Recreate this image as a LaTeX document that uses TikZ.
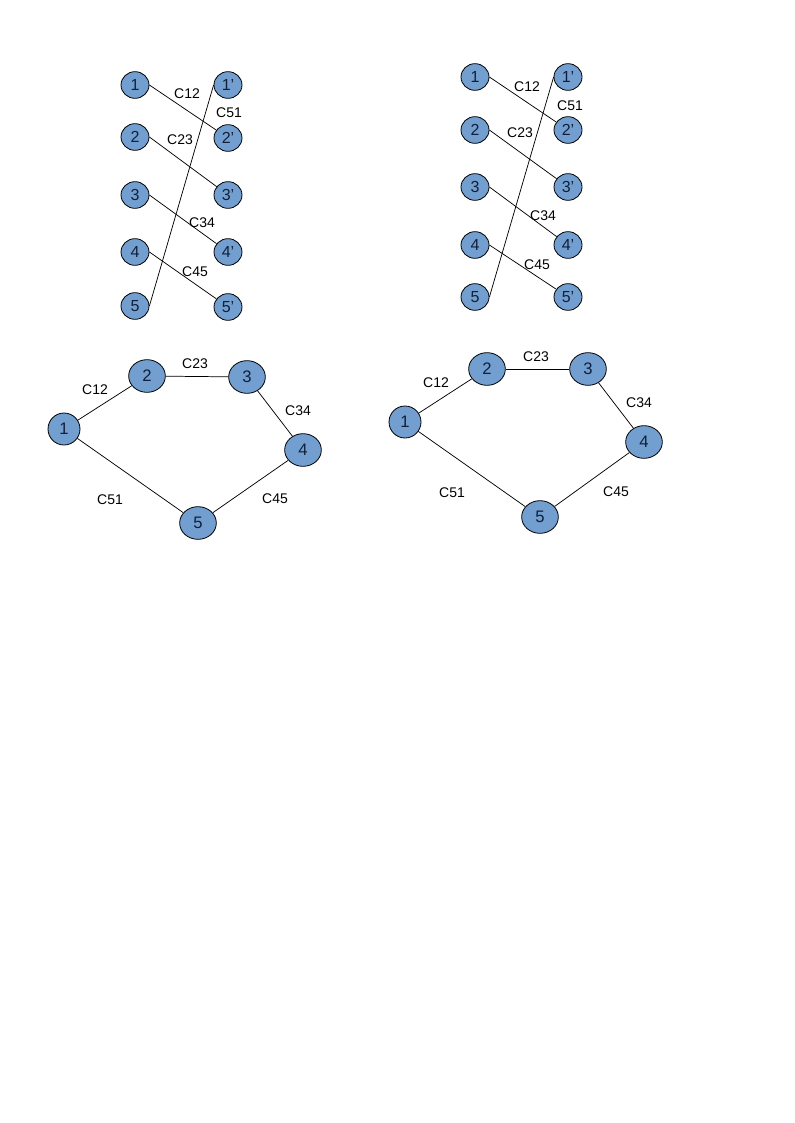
\documentclass[tikz,border=0pt]{standalone}
\usepackage{fontspec}
\setmainfont{Liberation Sans}
\usetikzlibrary{shapes.geometric}
\definecolor{nodefill}{HTML}{729FCF}
\definecolor{nodetext}{HTML}{10203A}
\tikzset{
  small/.style={ellipse,draw=black,line width=0.6pt,fill=nodefill,inner sep=0pt,
    minimum width=21pt,minimum height=20pt,font=\fontsize{12}{13}\selectfont,text=nodetext},
  big/.style={ellipse,draw=black,line width=0.6pt,fill=nodefill,inner sep=0pt,
    minimum width=27.5pt,minimum height=24.5pt,font=\fontsize{12.5}{13}\selectfont,text=nodetext},
  bigc/.style={big,minimum width=24pt,minimum height=24pt},
  lbl/.style={font=\fontsize{10.5}{12}\selectfont,inner sep=0pt},
  edge/.style={draw=black,line width=0.55pt}
}
\begin{document}
\begin{tikzpicture}[x=0.75pt,y=-0.75pt]
\useasboundingbox (0,0) rectangle (794,1123);
% ---------- top left ----------
\begin{scope}
\node[small] (tla1) at (135,85) {1};
\node[small] (tla2) at (135,137) {2};
\node[small] (tla3) at (135,195) {3};
\node[small] (tla4) at (135,252) {4};
\node[small] (tla5) at (135,306) {5};
\node[small] (tlb1) at (228,85) {1'};
\node[small] (tlb2) at (228,138) {2'};
\node[small] (tlb3) at (228,195) {3'};
\node[small] (tlb4) at (228,252) {4'};
\node[small] (tlb5) at (228,307) {5'};
\draw[edge] (tla1.east) -- (tlb2);
\draw[edge] (tla2.east) -- (tlb3);
\draw[edge] (tla3.east) -- (tlb4);
\draw[edge] (tla4.east) -- (tlb5);
\draw[edge] (tla5.east) -- (tlb1.west);
\node[lbl] (tll12) at (187,94) {C12};
\node[lbl] (tll51) at (229,113) {C51};
\node[lbl] (tll23) at (180,140) {C23};
\node[lbl] (tll34) at (202,223) {C34};
\node[lbl] (tll45) at (195,272) {C45};
\end{scope}
% ---------- top right ----------
\begin{scope}
\node[small] (tra1) at (475,77) {1};
\node[small] (tra2) at (475,130) {2};
\node[small] (tra3) at (475,187) {3};
\node[small] (tra4) at (475,245) {4};
\node[small] (tra5) at (475,297) {5};
\node[small] (trb1) at (568,77) {1'};
\node[small] (trb2) at (568,130) {2'};
\node[small] (trb3) at (568,187) {3'};
\node[small] (trb4) at (568,245) {4'};
\node[small] (trb5) at (568,297) {5'};
\draw[edge] (tra1.east) -- (trb2);
\draw[edge] (tra2.east) -- (trb3);
\draw[edge] (tra3.east) -- (trb4);
\draw[edge] (tra4.east) -- (trb5);
\draw[edge] (tra5.east) -- (trb1.west);
\node[lbl] (trl12) at (527,87) {C12};
\node[lbl] (trl51) at (570,106) {C51};
\node[lbl] (trl23) at (520,133) {C23};
\node[lbl] (trl34) at (543,216) {C34};
\node[lbl] (trl45) at (537,265) {C45};
\end{scope}
% ---------- bottom left ----------
\begin{scope}
\node[bigc] (bl1) at (64,429) {1};
\node[big] (bl2) at (147,376) {2};
\node[big] (bl3) at (247,377) {3};
\node[big] (bl4) at (303,450) {4};
\node[big] (bl5) at (198,523) {5};
\draw[edge] (bl1) -- (bl2);
\draw[edge] (bl2) -- (bl3);
\draw[edge] (bl3) -- (bl4);
\draw[edge] (bl4) -- (bl5);
\draw[edge] (bl5) -- (bl1);
\node[lbl] (bll12) at (95,390) {C12};
\node[lbl] (bll23) at (195,364) {C23};
\node[lbl] (bll34) at (298,411) {C34};
\node[lbl] (bll51) at (110,500) {C51};
\node[lbl] (bll45) at (275,499) {C45};
\end{scope}
% ---------- bottom right ----------
\begin{scope}
\node[bigc] (br1) at (405,422) {1};
\node[big] (br2) at (487,369) {2};
\node[big] (br3) at (588,369) {3};
\node[big] (br4) at (644,442) {4};
\node[big] (br5) at (540,517) {5};
\draw[edge] (br1) -- (br2);
\draw[edge] (br2) -- (br3);
\draw[edge] (br3) -- (br4);
\draw[edge] (br4) -- (br5);
\draw[edge] (br5) -- (br1);
\node[lbl] (brl12) at (436,383) {C12};
\node[lbl] (brl23) at (536,357) {C23};
\node[lbl] (brl34) at (639,403) {C34};
\node[lbl] (brl51) at (452,493) {C51};
\node[lbl] (brl45) at (616,492) {C45};
\end{scope}
\end{tikzpicture}
\end{document}
